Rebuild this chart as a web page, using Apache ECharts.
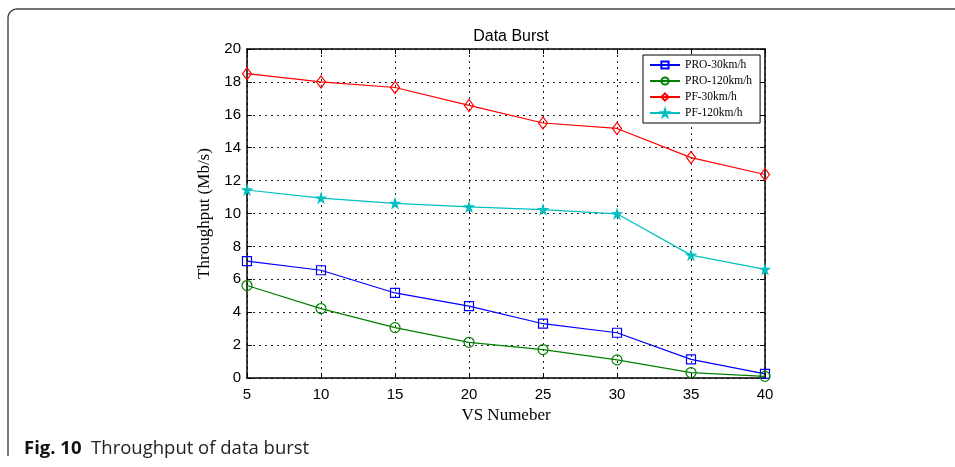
<!DOCTYPE html>
<html>
<head>
<meta charset="utf-8">
<script src="https://cdn.jsdelivr.net/npm/echarts@6/dist/echarts.min.js"></script>
<style>
html,body{margin:0;padding:0;background:#fff;}
#c{width:955px;height:467px;}
</style>
</head>
<body>
<div id="c"></div>
<script>
const xValues = [5, 10, 15, 20, 25, 30, 35, 40];
const pro30 = [7.1, 6.55, 5.17, 4.37, 3.3, 2.75, 1.13, 0.25];
const pro120 = [5.62, 4.22, 3.06, 2.17, 1.73, 1.1, 0.33, 0.1];
const pf30 = [18.5, 18.0, 17.66, 16.57, 15.5, 15.17, 13.4, 12.37];
const pf120 = [11.43, 10.93, 10.62, 10.4, 10.24, 9.98, 7.47, 6.6];
const seriesNames = ['PRO-30km/h', 'PRO-120km/h', 'PF-30km/h', 'PF-120km/h'];
const titleText = 'Data Burst';
const xName = 'VS Numeber';
const yName = 'Throughput (Mb/s)';

const pair = arr => xValues.map((x, i) => [x, arr[i]]);
const star = 'path://M50,0 L61,35 L98,35 L68,57 L79,91 L50,70 L21,91 L32,57 L2,35 L39,35 Z';

function mk(name, data, color, symbol, size, fill) {
  return {
    name: name, type: 'line', data: pair(data), xAxisIndex: 0, yAxisIndex: 0,
    symbol: symbol, symbolSize: size,
    lineStyle: { color: color, width: 1.2 },
    itemStyle: { color: fill ? color : 'rgba(255,255,255,0)', borderColor: color, borderWidth: 1.2 },
    emphasis: { disabled: true }, animation: false
  };
}

// frame: left line, rounded corner, top line
const r = 9, fx = 8, fy = 9;
const framePts = [[fx, 456]];
for (let k = 0; k <= 8; k++) {
  const a = Math.PI + (Math.PI / 2) * (k / 8);
  framePts.push([fx + r + r * Math.cos(a), fy + r + r * Math.sin(a)]);
}
framePts.push([955, fy]);

const chart = echarts.init(document.getElementById('c'));
const tickFont = { fontFamily: 'Liberation Sans, Arial, sans-serif', fontSize: 15, color: '#000' };
const gridLine = { show: true, lineStyle: { color: '#222', type: [2, 4], width: 1 } };
chart.setOption({
  animation: false,
  backgroundColor: '#fff',
  title: {
    text: titleText, left: 506, top: 24, textAlign: 'center',
    textStyle: { fontFamily: 'Liberation Sans, Arial, sans-serif', fontSize: 16, fontWeight: 'normal', color: '#000' }
  },
  grid: { left: 247, right: 190, top: 49, bottom: 89, containLabel: false },
  legend: {
    data: seriesNames, orient: 'vertical', left: 643, top: 55,
    itemWidth: 30, itemHeight: 9, itemGap: 2,
    padding: [3, 8, 3, 6],
    borderColor: '#000', borderWidth: 1, backgroundColor: '#fff',
    textStyle: { fontFamily: 'Liberation Serif, Times New Roman, serif', fontSize: 11.5, color: '#000', lineHeight: 14 }
  },
  xAxis: [{
    type: 'value', min: 5, max: 40, interval: 5,
    name: xName, nameLocation: 'middle', nameGap: 29,
    nameTextStyle: { fontFamily: 'Liberation Serif, Times New Roman, serif', fontSize: 17, color: '#000' },
    axisLine: { show: true, lineStyle: { color: '#000', width: 1.5 } },
    axisTick: { show: true, inside: true, length: 5, lineStyle: { color: '#000' } },
    axisLabel: Object.assign({ margin: 9 }, tickFont),
    splitLine: gridLine
  }, {
    type: 'value', min: 5, max: 40, interval: 5, position: 'top',
    axisLine: { show: true, onZero: false, lineStyle: { color: '#000', width: 1.5 } },
    axisTick: { show: true, inside: true, length: 5, lineStyle: { color: '#000' } },
    axisLabel: { show: false }, splitLine: { show: false }
  }],
  yAxis: [{
    type: 'value', min: 0, max: 20, interval: 2,
    name: yName, nameLocation: 'middle', nameGap: 31,
    nameTextStyle: { fontFamily: 'Liberation Serif, Times New Roman, serif', fontSize: 17, color: '#000' },
    axisLine: { show: true, lineStyle: { color: '#000', width: 1.5 } },
    axisTick: { show: true, inside: true, length: 5, lineStyle: { color: '#000' } },
    axisLabel: Object.assign({ margin: 6 }, tickFont),
    splitLine: gridLine
  }, {
    type: 'value', min: 0, max: 20, interval: 2, position: 'right',
    axisLine: { show: true, onZero: false, lineStyle: { color: '#000', width: 1.5 } },
    axisTick: { show: true, inside: true, length: 5, lineStyle: { color: '#000' } },
    axisLabel: { show: false }, splitLine: { show: false }
  }],
  series: [
    mk(seriesNames[0], pro30, '#0000ff', 'rect', 9, false),
    mk(seriesNames[1], pro120, '#008000', 'circle', 10, false),
    mk(seriesNames[2], pf30, '#ff0000', 'diamond', [9, 12], false),
    mk(seriesNames[3], pf120, '#00bfbf', star, 9, true)
  ],
  graphic: [
    {
      type: 'polyline', silent: true,
      shape: { points: framePts },
      style: { fill: 'none', stroke: '#444', lineWidth: 1.4 }
    },
    {
      type: 'text', left: 24, top: 439, silent: true,
      style: {
        text: '{b|Fig. 10}  Throughput of data burst',
        rich: { b: { fontWeight: 'bold', fontSize: 18.5, fontFamily: 'Open Sans, Noto Sans, sans-serif', fill: '#111' } },
        fontSize: 18.5, fontFamily: 'Open Sans, Noto Sans, sans-serif', fill: '#222'
      }
    }
  ]
});
</script>
</body>
</html>
